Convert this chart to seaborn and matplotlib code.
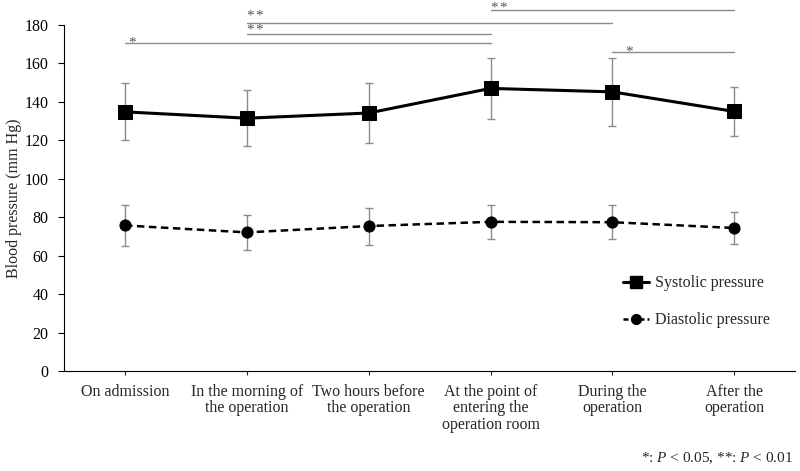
import numpy as np
import pandas as pd
import matplotlib.pyplot as plt
import seaborn as sns
from matplotlib.lines import Line2D

# -----------------------------
# Data
# -----------------------------
categories = [
    "On admission",
    "In the morning of\nthe operation",
    "Two hours before\nthe operation",
    "At the point of\nentering the\noperation room",
    "During the\noperation",
    "After the\noperation",
]
systolic = [134.8, 131.5, 134.2, 147.0, 145.2, 135.0]
systolic_sd = [14.8, 14.5, 15.8, 16.0, 17.8, 12.6]
diastolic = [75.7, 72.1, 75.4, 77.6, 77.4, 74.4]
diastolic_sd = [10.8, 9.3, 9.6, 8.8, 8.7, 8.2]

# significance brackets: start index, end index, height, label
sig_start = [0, 1, 1, 3, 4]
sig_end = [3, 3, 4, 5, 5]
sig_height = [170.6, 175.3, 181.0, 187.8, 166.0]
sig_label = ["*", "**", "**", "**", "*"]

# where each star label sits relative to its line (style only)
star_dy = [0.7, 2.6, 4.2, 1.5, 0.6]
star_dx = [0.06, 0.07, 0.07, 0.07, 0.14]

x = np.arange(len(categories))
df = pd.DataFrame({"pos": x, "Systolic pressure": systolic, "Diastolic pressure": diastolic})

# -----------------------------
# Style
# -----------------------------
sns.set_style("ticks")
plt.rcParams["font.family"] = ["Liberation Serif", "DejaVu Serif"]
plt.rcParams["mathtext.fontset"] = "custom"
plt.rcParams["mathtext.rm"] = "Liberation Serif"
plt.rcParams["mathtext.it"] = "Liberation Serif:italic"

fig = plt.figure(figsize=(8, 4.71), dpi=100)
ax = fig.add_axes([0.08, 0.2123, 0.914, 0.7347])

# error bars
ax.errorbar(x, systolic, yerr=systolic_sd, fmt="none", ecolor="#8c8c8c",
            elinewidth=1.0, capsize=3, capthick=1.0, zorder=1)
ax.errorbar(x, diastolic, yerr=diastolic_sd, fmt="none", ecolor="#8c8c8c",
            elinewidth=1.0, capsize=3, capthick=1.0, zorder=1)

# lines
sns.lineplot(data=df, x="pos", y="Systolic pressure", ax=ax, color="black",
             linewidth=2.2, marker="s", markersize=10, markeredgecolor="black",
             zorder=3)
sns.lineplot(data=df, x="pos", y="Diastolic pressure", ax=ax, color="black",
             linewidth=1.8, linestyle=(0, (3, 1.8)), marker="o", markersize=8,
             markeredgecolor="black", zorder=3)

# significance lines (mathtext keeps the star boxes tight to the glyphs)
for s, e, h, lab, dy, dx in zip(sig_start, sig_end, sig_height, sig_label, star_dy, star_dx):
    ax.plot([s, e], [h, h], color="#8c8c8c", linewidth=1.0, clip_on=False)
    ax.text(s + dx, h + dy, "$\\mathrm{" + lab + "}$", color="#555555", fontsize=11,
            ha="center", va="center", clip_on=False)

# axes
ax.set_xlim(-0.5, 5.5)
ax.set_ylim(0, 180)
ax.set_yticks(np.arange(0, 181, 20))
ax.set_xticks(x)
ax.set_xticklabels(categories, fontsize=11.5, linespacing=1.05)
ax.tick_params(axis="y", labelsize=11.5, length=4, width=0.8, pad=7, colors="black")
ax.tick_params(axis="x", length=3, width=0.8, pad=6)
ax.set_xlabel("")
ax.set_ylabel("Blood pressure (mm Hg)", fontsize=11.5, labelpad=2)
for side in ["top", "right"]:
    ax.spines[side].set_visible(False)
for side in ["left", "bottom"]:
    ax.spines[side].set_color("black")
    ax.spines[side].set_linewidth(0.8)

# legend
handles = [
    Line2D([0], [0], color="black", linewidth=2.2, marker="s", markersize=8),
    Line2D([0], [0], color="black", linewidth=1.8, linestyle=(0, (2, 1.2)),
           marker="o", markersize=7),
]
ax.legend(handles, ["Systolic pressure", "Diastolic pressure"],
          loc="center left", bbox_to_anchor=(0.745, 0.2), frameon=False,
          fontsize=11.5, handlelength=1.6, labelspacing=1.3, handletextpad=0.4)

# footnote
fig.text(0.991, 0.01, "*: $\\mathit{P}$ < 0.05, **: $\\mathit{P}$ < 0.01",
         ha="right", va="bottom", fontsize=11)

plt.savefig("out.png", dpi=100)
plt.close()
